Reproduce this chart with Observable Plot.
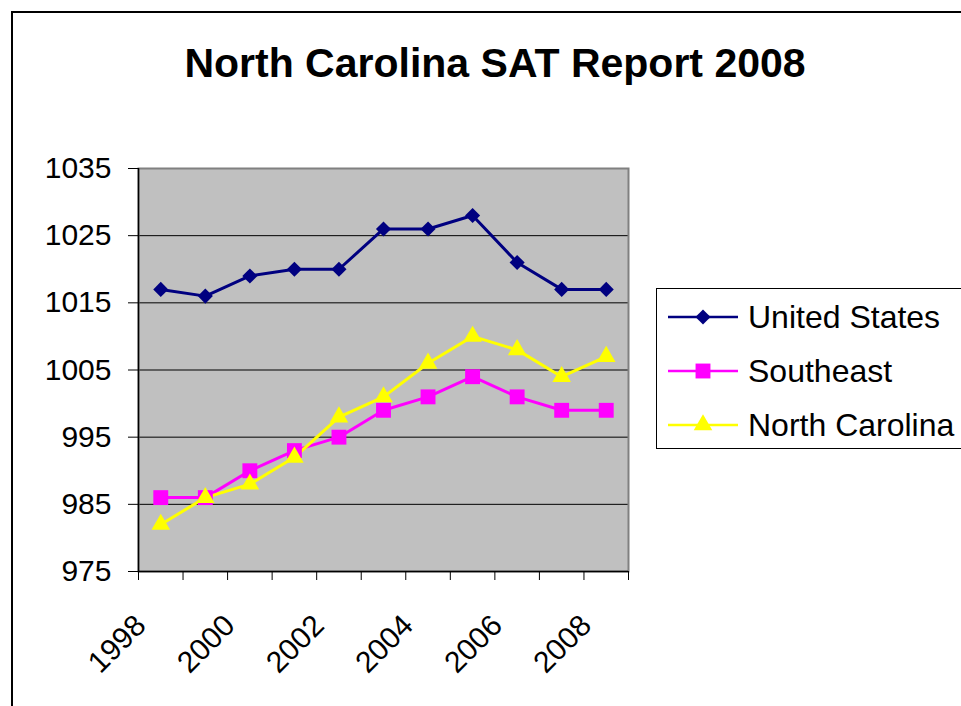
<!DOCTYPE html>
<html>
<head>
<meta charset="utf-8">
<script src="https://cdn.jsdelivr.net/npm/d3@7"></script>
<script src="https://cdn.jsdelivr.net/npm/@observablehq/plot@0.6"></script>
<style>
  body { margin: 0; background: #fff; }
  #wrap { position: relative; width: 961px; height: 706px; overflow: hidden; background: #fff; font-family: "Liberation Sans", Arial, sans-serif; }
  #frame { position: absolute; left: 11px; top: 11px; width: 1200px; height: 1200px; border: 2px solid #000; }
  #title { position: absolute; left: 0; width: 990px; top: 43px; text-align: center; font-weight: bold; font-size: 41px; line-height: 41px; color: #000; }
  #chart { position: absolute; left: 0; top: 0; }
  #legend { position: absolute; left: 656px; top: 288px; width: 400px; height: 161px; border: 1.5px solid #000; background: #fff; box-sizing: border-box; }
  .row { position: absolute; left: 10px; height: 54px; display: flex; align-items: center; font-size: 32px; color: #000; }
  .row svg { margin-right: 9px; }
</style>
</head>
<body>
<div id="wrap">
  <div id="frame"></div>
  <div id="title">North Carolina SAT Report 2008</div>
  <div id="chart"></div>
  <div id="legend"></div>
</div>
<script>
const years = [1998, 1999, 2000, 2001, 2002, 2003, 2004, 2005, 2006, 2007, 2008];
const unitedStates = [1017, 1016, 1019, 1020, 1020, 1026, 1026, 1028, 1021, 1017, 1017];
const southeast    = [986, 986, 990, 993, 995, 999, 1001, 1004, 1001, 999, 999];
const northCarolina = [982, 986, 988, 992, 998, 1001, 1006, 1010, 1008, 1004, 1007];
const seriesNames = ["United States", "Southeast", "North Carolina"];
const seriesColors = ["#000080", "#FF00FF", "#FFFF00"];
const seriesSymbols = ["diamond2", "square", "triangle"];
const seriesRadius = [6.8, 8.4, 6.9];
const yTicks = [975, 985, 995, 1005, 1015, 1025, 1035];
const yGrid = [985, 995, 1005, 1015, 1025];
const xLabelYears = [1998, 2000, 2002, 2004, 2006, 2008];
const xBoundaries = [1997.5, 1998.5, 1999.5, 2000.5, 2001.5, 2002.5, 2003.5, 2004.5, 2005.5, 2006.5, 2007.5, 2008.5];

const seriesValues = [unitedStates, southeast, northCarolina];
const table = [];
seriesNames.forEach((name, i) => {
  years.forEach((yr, j) => table.push({series: name, idx: i, year: yr, value: seriesValues[i][j]}));
});

const lineMarks = [];
const dotMarks = [];
seriesNames.forEach((name, i) => {
  const rows = table.filter(d => d.series === name);
  lineMarks.push(Plot.line(rows, {x: "year", y: "value", stroke: seriesColors[i], strokeWidth: 3}));
  dotMarks.push(Plot.dot(rows, {x: "year", y: "value", symbol: () => seriesSymbols[i], fill: seriesColors[i], stroke: "none", r: seriesRadius[i]}));
});

const chart = Plot.plot({
  width: 640,
  height: 706,
  marginLeft: 138,
  marginRight: 12,
  marginTop: 168,
  marginBottom: 135,
  style: {fontFamily: "'Liberation Sans', Arial, sans-serif", fontSize: "30px", color: "#000", background: "transparent", overflow: "visible"},
  x: {domain: [1997.5, 2008.5]},
  y: {domain: [975, 1035]},
  symbol: {type: "identity"},
  marks: [
    Plot.frame({fill: "#C0C0C0", stroke: "none"}),
    Plot.gridY(yGrid, {stroke: "#000", strokeOpacity: 1, strokeWidth: 1}),
    Plot.frame({stroke: "#808080", strokeWidth: 2}),
    Plot.ruleX([1997.5], {stroke: "#000", strokeWidth: 1.5}),
    Plot.ruleY([975], {stroke: "#000", strokeWidth: 1.5}),
    Plot.axisY({ticks: yTicks, tickSize: 10, tickPadding: 17, tickFormat: d => String(d), fontSize: 30, label: null, stroke: "#000"}),
    Plot.axisX({ticks: xBoundaries, tickSize: 9, tickFormat: () => "", label: null, stroke: "#000"}),
    Plot.axisX({ticks: xLabelYears, tickSize: 0, tickPadding: 49, tickRotate: -45, tickFormat: d => String(d), fontSize: 30, label: null, dx: -20}),
    ...lineMarks,
    ...dotMarks
  ]
});
document.getElementById("chart").appendChild(chart);

// legend
const legend = d3.select("#legend");
seriesNames.forEach((name, i) => {
  const row = legend.append("div").attr("class", "row").style("top", (1 + i * 54) + "px");
  const svg = row.append("svg").attr("width", 72).attr("height", 24);
  svg.append("line").attr("x1", 1).attr("x2", 71).attr("y1", 12).attr("y2", 12)
    .attr("stroke", seriesColors[i]).attr("stroke-width", 2.5);
  const symType = i === 0 ? d3.symbolDiamond2 : i === 1 ? d3.symbolSquare : d3.symbolTriangle;
  svg.append("path").attr("transform", "translate(36,12)")
    .attr("d", d3.symbol(symType, Math.PI * seriesRadius[i] * seriesRadius[i])())
    .attr("fill", seriesColors[i]);
  row.append("span").text(name);
});
</script>
</body>
</html>
